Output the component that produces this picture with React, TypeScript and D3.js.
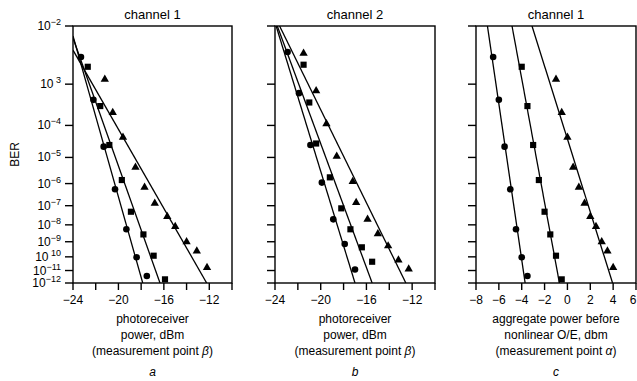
import React from "react";
import * as d3 from "d3";

// BER axis ticks (log(-log) scale)
const berTicks = [1e-2, 1e-3, 1e-4, 1e-5, 1e-6, 1e-7, 1e-8, 1e-9, 1e-10, 1e-11, 1e-12];
const berTickExp = ["\u22122", "\u00a03", "\u22124", "\u22125", "\u22126", "\u22127", "\u22128", "\u22129", "\u00a010", "\u221211", "\u221212"];

// channel 1 BER values (shared by panels a and c)
const ch1CircleBer = [3.3e-3, 4.5e-4, 2.3e-5, 5.7e-7, 5.6e-9, 9.3e-11, 3.7e-12];
const ch1SquareBer = [2.2e-3, 3.2e-4, 2.6e-5, 1.4e-6, 5e-8, 2.8e-9, 1.2e-10, 2e-12];
const ch1TriangleBer = [1.26e-3, 2.2e-4, 4.5e-5, 4.4e-6, 7e-7, 1.3e-7, 2.8e-8, 7.9e-9, 1e-9, 2.5e-10, 1.7e-11];

// panel a: photoreceiver power, dBm
const aCircleX = [-23.3, -22.2, -21.3, -20.3, -19.3, -18.4, -17.5];
const aSquareX = [-22.7, -21.6, -20.8, -19.7, -18.9, -17.8, -16.9, -15.9];
const aTriangleX = [-21.2, -20.5, -19.6, -18.5, -17.7, -16.8, -15.7, -15.0, -14.0, -13.1, -12.2];

// panel b: channel 2
const bCircleX = [-22.9, -21.9, -20.9, -19.9, -18.9, -17.9, -17.0];
const bCircleBer = [4e-3, 6.4e-4, 2.6e-5, 1.1e-6, 2e-8, 7.2e-10, 1.2e-11];
const bSquareX = [-21.5, -21.0, -20.4, -19.2, -18.2, -17.4, -16.4, -15.5];
const bSquareBer = [2.4e-3, 3.9e-4, 2.9e-5, 1.8e-6, 7.4e-8, 5.6e-9, 4.4e-10, 4.5e-11];
const bTriangleX = [-21.5, -20.4, -19.5, -18.6, -17.2, -16.9, -15.9, -15.0, -14.1, -13.2, -12.3];
const bTriangleBer = [3.8e-3, 7.2e-4, 1.1e-4, 1.1e-5, 1.2e-6, 1.4e-7, 2e-8, 3e-9, 5.4e-10, 6e-11, 1.3e-11];

// panel c: aggregate power before nonlinear O/E
const cCircleX = [-6.5, -6, -5.5, -5, -4.5, -4, -3.5];
const cSquareX = [-4, -3.5, -3, -2.5, -2, -1.5, -1, -0.5];
const cTriangleX = [-1, -0.5, 0, 0.5, 1, 1.5, 2, 2.5, 3, 3.5, 4];

// fitted lines: [x, BER] end points
const aFits = [
  [[-24, 7.2e-3], [-17.86, 1e-12]],
  [[-24, 6.7e-3], [-16.34, 1e-12]],
  [[-24, 4.3e-3], [-12.23, 1e-12]],
];
const bFits = [
  [[-23.9, 1e-2], [-17.0, 1e-12]],
  [[-23.8, 1e-2], [-15.5, 1e-12]],
  [[-23.6, 1e-2], [-12.55, 1e-12]],
];
const cFits = [
  [[-7.0, 1e-2], [-3.7, 1e-12]],
  [[-4.85, 1e-2], [-0.7, 1e-12]],
  [[-3.1, 1e-2], [3.95, 1e-12]],
];

const top = 26;
const bottom = 283;
const font = "'Liberation Sans', Arial, sans-serif";

const yLin = d3.scaleLinear().domain([Math.log10(2), Math.log10(12)]).range([top, bottom]);
const y = (ber: number) => yLin(Math.log10(-Math.log10(ber)));

const panels = [
  {
    id: "a", left: 73, right: 232, domain: [-24, -10], labels: [-24, -20, -16, -12],
    title: "channel 1", lines: ["photoreceiver", "power, dBm"], greek: "\u03b2",
    circle: [aCircleX, ch1CircleBer], square: [aSquareX, ch1SquareBer], triangle: [aTriangleX, ch1TriangleBer],
    fits: aFits,
  },
  {
    id: "b", left: 275, right: 435, domain: [-24, -10], labels: [-24, -20, -16, -12],
    title: "channel 2", lines: ["photoreceiver", "power, dBm"], greek: "\u03b2",
    circle: [bCircleX, bCircleBer], square: [bSquareX, bSquareBer], triangle: [bTriangleX, bTriangleBer],
    fits: bFits,
  },
  {
    id: "c", left: 476, right: 636, domain: [-8, 6], labels: [-8, -6, -4, -2, 0, 2, 4, 6],
    title: "channel 1", lines: ["aggregate power before", "nonlinear O/E, dbm"], greek: "\u03b1",
    circle: [cCircleX, ch1CircleBer], square: [cSquareX, ch1SquareBer], triangle: [cTriangleX, ch1TriangleBer],
    fits: cFits,
  },
];

const fmt = d3.format("d");
const triPath = d3.symbol(d3.symbolTriangle, 30)() as string;
const sqPath = d3.symbol(d3.symbolSquare, 38)() as string;

const Panel = ({ p }: { p: any }) => {
  const x = d3.scaleLinear().domain(p.domain).range([p.left, p.right]);
  const ticks = d3.range(p.domain[0], p.domain[1] + 1, 2);
  const cx = (p.left + p.right) / 2;
  const line = d3.line<number[]>().x((d) => x(d[0])).y((d) => y(d[1]));
  const pts = (pair: number[][]) => pair[0].map((v, i) => [x(v), y(pair[1][i])]);
  return (
    <g>
      <clipPath id={`clip-${p.id}`}>
        <rect x={p.left} y={top} width={p.right - p.left} height={bottom - top} />
      </clipPath>
      <text x={cx} y={19} textAnchor="middle" fontSize={13}>{p.title}</text>
      {/* y ticks */}
      {berTicks.map((b) => (
        <line key={b} x1={p.left - 8} x2={p.left} y1={y(b)} y2={y(b)} stroke="#000" strokeWidth={1.4} />
      ))}
      {/* x ticks */}
      {ticks.map((t) => (
        <line key={t} x1={x(t)} x2={x(t)} y1={bottom} y2={bottom + 7} stroke="#000" strokeWidth={1.4} />
      ))}
      {p.labels.map((t: number) => (
        <text key={t} x={Math.min(x(t), 633)} y={bottom + 21} textAnchor="middle" fontSize={12}>{fmt(t)}</text>
      ))}
      <g clipPath={`url(#clip-${p.id})`}>
        {p.fits.map((f: number[][], i: number) => (
          <path key={i} d={line(f) as string} fill="none" stroke="#000" strokeWidth={1.3} />
        ))}
      </g>
      {pts(p.circle).map((d, i) => <circle key={"c" + i} cx={d[0]} cy={d[1]} r={3.3} fill="#000" />)}
      {pts(p.square).map((d, i) => <path key={"s" + i} d={sqPath} transform={`translate(${d[0]},${d[1]})`} fill="#000" />)}
      {pts(p.triangle).map((d, i) => <path key={"t" + i} d={triPath} transform={`translate(${d[0]},${d[1]})`} fill="#000" />)}
      <rect x={p.left} y={top} width={p.right - p.left} height={bottom - top} fill="none" stroke="#000" strokeWidth={1.4} />
      <text x={cx} y={323} textAnchor="middle" fontSize={12}>{p.lines[0]}</text>
      <text x={cx} y={339} textAnchor="middle" fontSize={12}>{p.lines[1]}</text>
      <text x={cx} y={355} textAnchor="middle" fontSize={12}>
        (measurement point <tspan fontStyle="italic">{p.greek}</tspan>)
      </text>
      <text x={cx} y={376} textAnchor="middle" fontSize={12} fontStyle="italic">{p.id}</text>
    </g>
  );
};

export default function App() {
  return (
    <svg width={637} height={381} style={{ position: "absolute", left: 0, top: 0, background: "#fff" }}
      fontFamily={font} xmlSpace="preserve">
      <rect width={637} height={381} fill="#fff" />
      {berTicks.map((b, i) => (
        <text key={b} x={61} y={y(b) + 4} textAnchor="end" fontSize={12}>
          10<tspan fontSize={9} dy={-5}>{berTickExp[i]}</tspan>
        </text>
      ))}
      <text transform={`translate(19,${(top + bottom) / 2}) rotate(-90)`} textAnchor="middle" fontSize={12}>BER</text>
      {panels.map((p) => <Panel key={p.id} p={p} />)}
    </svg>
  );
}
